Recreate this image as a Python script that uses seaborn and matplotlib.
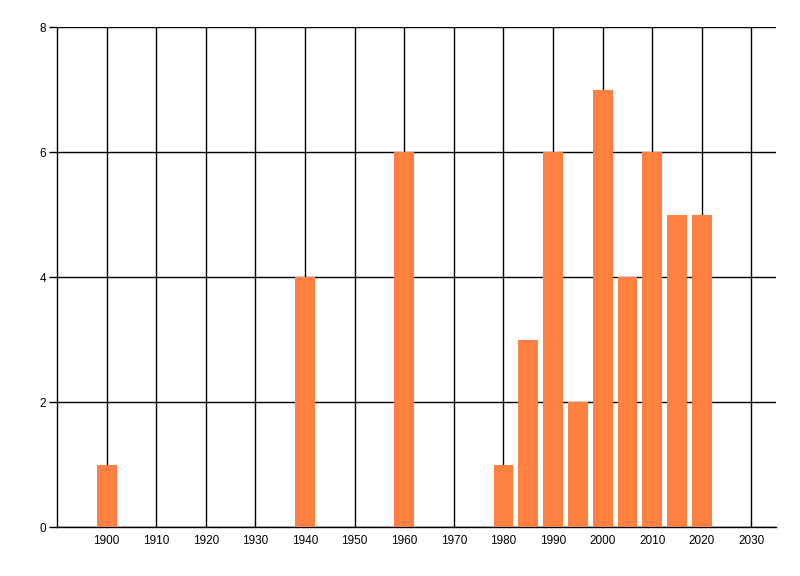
import matplotlib
matplotlib.use("Agg")
import matplotlib.pyplot as plt
import seaborn as sns
import pandas as pd

years = [1900, 1940, 1960, 1980, 1985, 1990, 1995, 2000, 2005, 2010, 2015, 2020]
counts = [1, 4, 6, 1, 3, 6, 2, 7, 4, 6, 5, 5]
x_ticks = list(range(1900, 2031, 10))
y_ticks = [0, 2, 4, 6, 8]

sns.set_theme(style="white")
plt.rcParams['font.family'] = ['Liberation Sans', 'DejaVu Sans']

df = pd.DataFrame({"year": years, "count": counts})

fig = plt.figure(figsize=(8, 5.76), dpi=100)
ax = fig.add_axes([0.0713, 0.085, 0.899, 0.868])

sns.barplot(data=df, x="year", y="count", native_scale=True, width=0.8,
            color="#FF8040", saturation=1, linewidth=0, ax=ax, zorder=3)

ax.set_xlim(1890, 2035)
ax.set_ylim(0, 8)
ax.set_xticks(x_ticks)
ax.set_yticks(y_ticks)
ax.set_xlabel("")
ax.set_ylabel("")

ax.grid(True, color="black", linewidth=1, zorder=0)
ax.set_axisbelow(True)

for side in ["top", "right"]:
    ax.spines[side].set_visible(False)
for side in ["left", "bottom"]:
    ax.spines[side].set_color("black")
    ax.spines[side].set_linewidth(1)

ax.tick_params(axis="x", length=0, pad=6, labelsize=8.5, colors="black")
ax.tick_params(axis="y", length=6, width=1, pad=2, labelsize=8.5, colors="black", left=True)

plt.savefig("out.png", dpi=100)
